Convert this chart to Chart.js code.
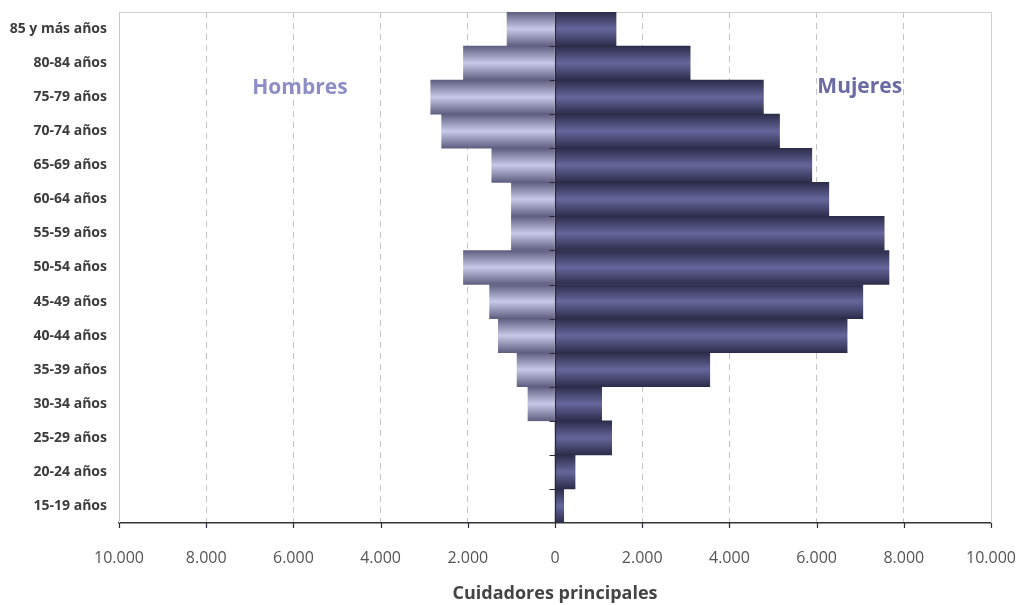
<!DOCTYPE html>
<html>
<head>
<meta charset="utf-8">
<script src="https://cdn.jsdelivr.net/npm/chart.js@4.4.1/dist/chart.umd.min.js"></script>
<style>
  html, body { margin: 0; padding: 0; background: #fff; }
  #wrap { width: 1019px; height: 605px; }
</style>
</head>
<body>
<div id="wrap"><canvas id="piramide"></canvas></div>
<script>
// grupos de edad, de arriba abajo
const edades = ['85 y más años', '80-84 años', '75-79 años', '70-74 años', '65-69 años',
  '60-64 años', '55-59 años', '50-54 años', '45-49 años', '40-44 años',
  '35-39 años', '30-34 años', '25-29 años', '20-24 años', '15-19 años'];

// cuidadores principales por sexo
const hombres = [1100, 2100, 2850, 2600, 1450, 1000, 1000, 2100, 1500, 1300, 870, 620, 0, 0, 0];
const mujeres = [1400, 3100, 4780, 5150, 5890, 6280, 7550, 7660, 7060, 6700, 3550, 1070, 1300, 460, 200];

const ejeTicks = [-10000, -8000, -6000, -4000, -2000, 0, 2000, 4000, 6000, 8000, 10000];

function formato(v) {
  return String(Math.abs(v)).replace(/\B(?=(\d{3})+(?!\d))/g, '.');
}

// degradado vertical dentro de cada barra (oscuro en los bordes, claro en el centro)
function degradado(ctx, borde, centro) {
  const chart = ctx.chart;
  const y = chart.scales.y;
  if (!y || ctx.type !== 'data') return centro;
  const c = y.getPixelForValue(ctx.dataIndex);
  const h = y.height / edades.length / 2;
  if (!isFinite(c) || !isFinite(h) || h <= 0) return centro;
  const g = chart.ctx.createLinearGradient(0, c - h, 0, c + h);
  g.addColorStop(0, borde);
  g.addColorStop(0.5, centro);
  g.addColorStop(1, borde);
  return g;
}

const marco = {
  id: 'marco',
  beforeDatasetsDraw(chart) {
    const { ctx, chartArea: a } = chart;
    ctx.save();
    ctx.strokeStyle = '#d0d0d0';
    ctx.lineWidth = 1;
    ctx.beginPath();
    ctx.moveTo(a.left, a.top + 0.5);
    ctx.lineTo(a.right + 0.5, a.top + 0.5);
    ctx.lineTo(a.right + 0.5, a.bottom);
    ctx.stroke();
    ctx.restore();
  },
  afterDatasetsDraw(chart) {
    const { ctx, chartArea: a, scales: { x, y } } = chart;
    const x0 = Math.round(x.getPixelForValue(0)) + 0.5;
    ctx.save();
    ctx.strokeStyle = '#2a2a3a';
    ctx.lineWidth = 1.2;
    ctx.beginPath();
    ctx.moveTo(x0, a.top);
    ctx.lineTo(x0, a.bottom);
    // marcas de categoría sobre el eje 0
    const paso = y.height / edades.length;
    for (let i = 1; i < edades.length; i++) {
      const yy = Math.round(a.top + paso * i) + 0.5;
      ctx.moveTo(x0 - 6, yy);
      ctx.lineTo(x0, yy);
    }
    // marcas del eje horizontal
    ejeTicks.forEach(v => {
      const xx = Math.round(x.getPixelForValue(v)) + 0.5;
      ctx.moveTo(xx, a.bottom);
      ctx.lineTo(xx, a.bottom + 5);
    });
    ctx.stroke();

    ctx.font = 'bold 21px "Open Sans"';
    ctx.textAlign = 'center';
    ctx.textBaseline = 'middle';
    ctx.fillStyle = '#8e8ec6';
    ctx.fillText('Hombres', x.getPixelForValue(-5850), 88);
    ctx.fillStyle = '#6a6aa4';
    ctx.fillText('Mujeres', x.getPixelForValue(6990), 87);
    ctx.restore();
  }
};

new Chart(document.getElementById('piramide'), {
  type: 'bar',
  data: {
    labels: edades,
    datasets: [{
      label: 'Hombres',
      data: hombres.map(v => -v),
      backgroundColor: c => degradado(c, '#5e5e80', '#c8c8e8'),
      barPercentage: 1,
      categoryPercentage: 1
    }, {
      label: 'Mujeres',
      data: mujeres,
      backgroundColor: c => degradado(c, '#2c2c4a', '#66669c'),
      barPercentage: 1,
      categoryPercentage: 1
    }]
  },
  options: {
    indexAxis: 'y',
    responsive: true,
    maintainAspectRatio: false,
    animation: false,
    layout: { padding: { top: 12, right: 28, left: 0, bottom: 0 } },
    plugins: {
      legend: { display: false },
      tooltip: { enabled: false }
    },
    scales: {
      x: {
        stacked: true,
        min: -10000,
        max: 10000,
        afterBuildTicks: s => { s.ticks = ejeTicks.map(v => ({ value: v })); },
        afterFit: s => { s.height = 82; s.paddingLeft = 0; s.paddingRight = 0; },
        ticks: {
          callback: v => formato(v),
          color: '#555',
          font: { family: 'Open Sans', size: 16 },
          padding: 26,
          maxRotation: 0
        },
        grid: {
          drawTicks: false,
          color: c => (c.tick && Math.abs(c.tick.value) % 10000 !== 0) ? '#c4c4c4' : 'rgba(0,0,0,0)',
          lineWidth: 1
        },
        border: { display: true, color: '#333', width: 1.5, dash: [6, 5] },
        title: {
          display: true,
          text: 'Cuidadores principales',
          color: '#444',
          font: { family: 'Open Sans', size: 18, weight: 'bold' },
          padding: { top: 0, bottom: 0 }
        }
      },
      y: {
        stacked: true,
        afterFit: s => { s.width = 119; s.paddingTop = 0; s.paddingBottom = 0; },
        grid: { display: false, drawTicks: false },
        border: { display: true, color: '#c8c8c8', width: 1 },
        ticks: {
          color: '#3c3c3c',
          font: { family: 'Open Sans', size: 14, weight: 'bold' },
          padding: 12
        }
      }
    }
  },
  plugins: [marco]
});
</script>
</body>
</html>
